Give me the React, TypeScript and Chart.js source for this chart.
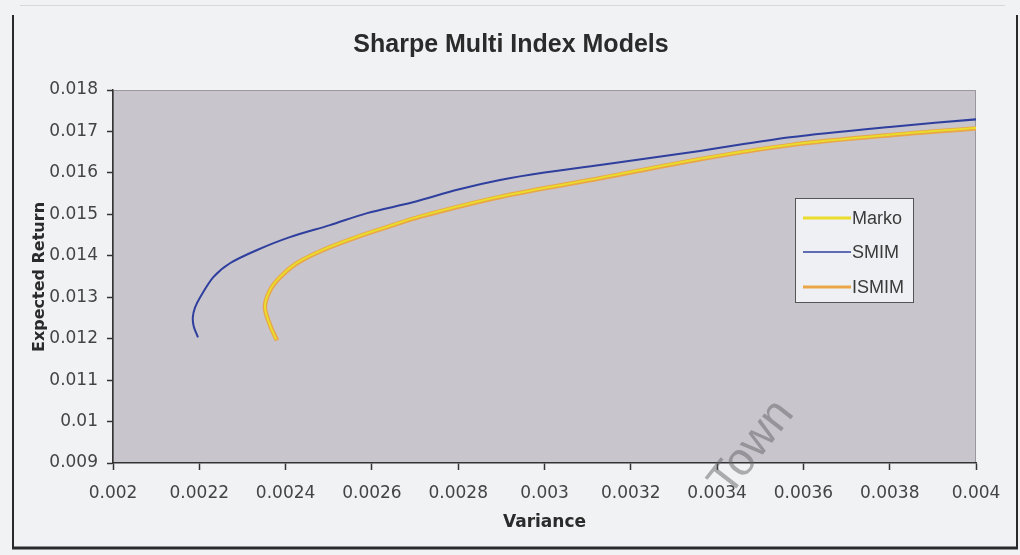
import React, { useEffect, useRef } from "react";
import { Chart, registerables } from "chart.js";

Chart.register(...registerables);

const TITLE = "Sharpe Multi Index Models";
const X_TITLE = "Variance";
const Y_TITLE = "Expected Return";
const WATERMARK = "Town";

const seriesNames = ["Marko", "SMIM", "ISMIM"];
const seriesColors = ["#e9dc2c", "#2f3f9e", "#eaa548"];

// SMIM (blue)
const smimVar = [0.002197, 0.002187, 0.002185, 0.00219, 0.002202, 0.002232, 0.002271, 0.002334, 0.00241, 0.002503, 0.002589, 0.002695, 0.0028, 0.002897, 0.003, 0.003129, 0.00336, 0.003569, 0.0038, 0.00401];
const smimRet = [0.01203, 0.0123, 0.01252, 0.01275, 0.013, 0.01348, 0.01382, 0.01414, 0.01445, 0.01474, 0.01503, 0.01529, 0.0156, 0.01583, 0.01601, 0.01619, 0.01653, 0.01686, 0.01711, 0.0173];

// ISMIM (orange)
const ismimVar = [0.00238, 0.002365, 0.002352, 0.002364, 0.002387, 0.002426, 0.002487, 0.002565, 0.002635, 0.00271, 0.002897, 0.003129, 0.00336, 0.003569, 0.0038, 0.00401];
const ismimRet = [0.01196, 0.0123, 0.01276, 0.01317, 0.01348, 0.01382, 0.01414, 0.01445, 0.01469, 0.01494, 0.01542, 0.01587, 0.01633, 0.01667, 0.01691, 0.01708];

// Marko (yellow)
const markoVar = [0.002378, 0.002364, 0.002352, 0.002364, 0.002387, 0.002426, 0.002487, 0.002565, 0.002635, 0.00271, 0.002897, 0.003129, 0.00336, 0.003569, 0.0038, 0.00401];
const markoRet = [0.01198, 0.01232, 0.01277, 0.01318, 0.01349, 0.01383, 0.01415, 0.01446, 0.0147, 0.01495, 0.01543, 0.01588, 0.01634, 0.01668, 0.01692, 0.01709];

const xMin = 0.002;
const xMax = 0.004;
const xStep = 0.0002;
const yMin = 0.009;
const yMax = 0.018;
const yStep = 0.001;

const pts = (xs: number[], ys: number[]) => xs.map((x, i) => ({ x, y: ys[i] }));
const fmt = (v: number) => Number(Number(v).toFixed(6)).toString();

const decorPlugin = {
  id: "decor",
  beforeDraw(chart: any) {
    const { ctx, chartArea, width, height } = chart;
    ctx.save();
    ctx.fillStyle = "#f1f2f4";
    ctx.fillRect(0, 0, width, height);
    // outer frame
    ctx.strokeStyle = "#2a2a2a";
    ctx.lineWidth = 2;
    ctx.beginPath();
    ctx.moveTo(13, 15);
    ctx.lineTo(13, 548);
    ctx.moveTo(1017, 15);
    ctx.lineTo(1017, 548);
    ctx.stroke();
    ctx.lineWidth = 3;
    ctx.beginPath();
    ctx.moveTo(12, 548);
    ctx.lineTo(1018, 548);
    ctx.stroke();
    ctx.strokeStyle = "#d6d7da";
    ctx.lineWidth = 1;
    ctx.beginPath();
    ctx.moveTo(20, 5.5);
    ctx.lineTo(1005, 5.5);
    ctx.stroke();
    // plot area
    ctx.fillStyle = "#c8c5cd";
    ctx.fillRect(chartArea.left, chartArea.top, chartArea.right - chartArea.left, chartArea.bottom - chartArea.top);
    ctx.strokeStyle = "#9a989e";
    ctx.lineWidth = 1;
    ctx.strokeRect(chartArea.left + 0.5, chartArea.top + 0.5, chartArea.right - chartArea.left - 1, chartArea.bottom - chartArea.top - 1);
    ctx.restore();
  },
  afterDraw(chart: any) {
    const { ctx, chartArea } = chart;
    ctx.save();
    // title
    ctx.fillStyle = "#2b2b2b";
    ctx.textAlign = "center";
    ctx.textBaseline = "middle";
    ctx.font = "bold 25px 'Liberation Sans', Arial, sans-serif";
    ctx.fillText(TITLE, 511, 45);
    // x title
    ctx.font = "bold 17px 'DejaVu Sans', sans-serif";
    ctx.fillText(X_TITLE, (chartArea.left + chartArea.right) / 2, 523);
    // y title
    ctx.save();
    ctx.translate(40, 277);
    ctx.rotate(-Math.PI / 2);
    ctx.font = "bold 16px 'DejaVu Sans', sans-serif";
    ctx.fillText(Y_TITLE, 0, 0);
    ctx.restore();

    // legend
    const bx = 795, by = 198, bw = 118, bh = 104;
    ctx.fillStyle = "#eef0f3";
    ctx.fillRect(bx, by, bw, bh);
    ctx.strokeStyle = "#555";
    ctx.lineWidth = 1;
    ctx.strokeRect(bx + 0.5, by + 0.5, bw, bh);
    const rows = [218, 252, 287];
    chart.data.datasets.forEach((ds: any, i: number) => {
      const y = rows[i];
      ctx.strokeStyle = ds.borderColor;
      ctx.lineWidth = i === 1 ? 1.5 : 3;
      ctx.beginPath();
      ctx.moveTo(803, y);
      ctx.lineTo(851, y);
      ctx.stroke();
      ctx.fillStyle = "#3a3a3a";
      ctx.textAlign = "left";
      ctx.font = "18px 'Liberation Sans', Arial, sans-serif";
      ctx.fillText(ds.label, 852, y + 1);
    });

    // watermark
    ctx.save();
    ctx.translate(752, 448);
    ctx.rotate(-52 * Math.PI / 180);
    ctx.fillStyle = "rgba(100,100,100,0.5)";
    ctx.textAlign = "center";
    ctx.font = "46px 'Liberation Sans', Arial, sans-serif";
    ctx.fillText(WATERMARK, 0, 0);
    ctx.restore();
    ctx.restore();
  },
};

export default function App() {
  const ref = useRef<HTMLCanvasElement | null>(null);

  useEffect(() => {
    if (!ref.current) return;
    const chart = new Chart(ref.current, {
      type: "scatter",
      data: {
        datasets: [
          {
            label: seriesNames[0],
            data: pts(markoVar, markoRet),
            borderColor: seriesColors[0],
            borderWidth: 2,
            showLine: true,
            pointRadius: 0,
            tension: 0.3,
          },
          {
            label: seriesNames[1],
            data: pts(smimVar, smimRet),
            borderColor: seriesColors[1],
            borderWidth: 2,
            showLine: true,
            pointRadius: 0,
            tension: 0.3,
          },
          {
            label: seriesNames[2],
            data: pts(ismimVar, ismimRet),
            borderColor: seriesColors[2],
            borderWidth: 4.5,
            showLine: true,
            pointRadius: 0,
            tension: 0.3,
          },
        ],
      },
      options: {
        animation: false,
        responsive: true,
        maintainAspectRatio: false,
        layout: { padding: { top: 90, right: 44, bottom: 0, left: 0 } },
        plugins: {
          legend: { display: false },
          title: { display: false },
          tooltip: { enabled: false },
        },
        scales: {
          x: {
            type: "linear",
            min: xMin,
            max: xMax,
            afterFit: (s: any) => {
              s.height = 92;
            },
            ticks: {
              stepSize: xStep,
              callback: (v: any) => fmt(v),
              font: { family: "'DejaVu Sans', sans-serif", size: 17 },
              color: "#444",
              padding: 13,
              maxRotation: 0,
              autoSkip: false,
            },
            grid: { drawOnChartArea: false, drawTicks: true, tickLength: 7, tickColor: "#333", tickWidth: 1.5 },
            border: { color: "#333", width: 1.5 },
          },
          y: {
            type: "linear",
            min: yMin,
            max: yMax,
            afterFit: (s: any) => {
              s.width = 113;
            },
            ticks: {
              stepSize: yStep,
              callback: (v: any) => fmt(v),
              font: { family: "'DejaVu Sans', sans-serif", size: 17 },
              color: "#444",
              padding: 9,
              autoSkip: false,
            },
            grid: { drawOnChartArea: false, drawTicks: true, tickLength: 6, tickColor: "#333", tickWidth: 1.5 },
            border: { color: "#333", width: 1.5 },
          },
        },
      },
      plugins: [decorPlugin],
    });
    return () => chart.destroy();
  }, []);

  return (
    <div style={{ position: "fixed", left: 0, top: 0, width: 1020, height: 555, background: "#f1f2f4" }}>
      <canvas ref={ref} />
    </div>
  );
}
